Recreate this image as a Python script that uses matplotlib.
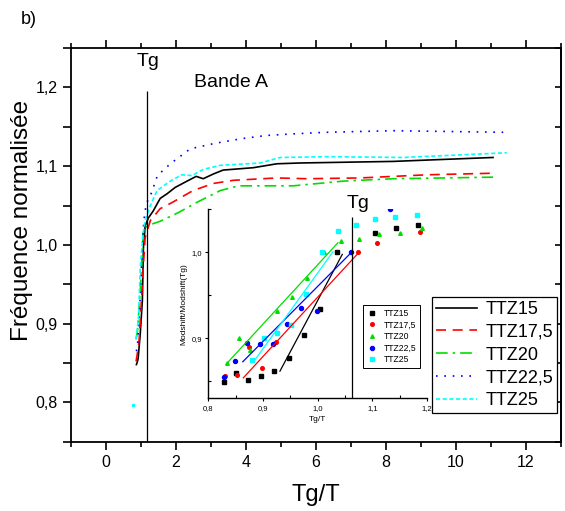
import numpy as np
import matplotlib
matplotlib.use("Agg")
import matplotlib.pyplot as plt
from matplotlib.ticker import MultipleLocator, FuncFormatter

plt.rcParams['font.family'] = ['Liberation Sans', 'DejaVu Sans']

# ---------------- main chart data ----------------
series_names = ["TTZ15", "TTZ17,5", "TTZ20", "TTZ22,5", "TTZ25"]

ttz15_x = [0.87, 0.90, 0.92, 0.98, 1.04, 1.07, 1.12, 1.21, 1.35, 1.55, 1.75, 1.98, 2.32, 2.58, 2.78, 3.07, 3.35, 4.21, 4.89, 5.55, 8.21, 11.07]
ttz15_y = [0.848, 0.852, 0.856, 0.887, 0.929, 0.996, 1.024, 1.034, 1.043, 1.059, 1.065, 1.073, 1.081, 1.087, 1.084, 1.090, 1.095, 1.098, 1.103, 1.104, 1.106, 1.111]

ttz175_x = [0.86, 0.89, 0.95, 1.02, 1.07, 1.12, 1.27, 1.55, 1.90, 2.49, 3.07, 3.64, 4.89, 5.75, 7.27, 9.18, 11.07]
ttz175_y = [0.852, 0.860, 0.880, 0.935, 0.975, 1.009, 1.031, 1.046, 1.054, 1.069, 1.078, 1.082, 1.085, 1.084, 1.085, 1.089, 1.091]

ttz20_x = [0.86, 0.90, 0.98, 1.07, 1.22, 1.55, 2.07, 2.60, 3.27, 3.79, 5.36, 6.79, 8.22, 11.07]
ttz20_y = [0.880, 0.890, 0.941, 1.020, 1.025, 1.030, 1.041, 1.054, 1.069, 1.075, 1.075, 1.081, 1.084, 1.086]

ttz225_x = [0.87, 0.90, 0.96, 1.03, 1.08, 1.15, 1.31, 1.47, 1.84, 2.41, 3.12, 3.89, 4.60, 5.36, 6.31, 8.22, 11.36]
ttz225_y = [0.865, 0.872, 0.916, 0.985, 1.030, 1.052, 1.067, 1.088, 1.103, 1.122, 1.129, 1.135, 1.139, 1.141, 1.143, 1.145, 1.143]

ttz25_x = [0.86, 0.93, 0.98, 1.05, 1.12, 1.25, 1.46, 1.84, 2.17, 2.46, 2.79, 3.27, 4.41, 4.98, 6.31, 8.50, 11.46]
ttz25_y = [0.880, 0.907, 0.971, 1.010, 1.031, 1.048, 1.069, 1.081, 1.089, 1.088, 1.096, 1.101, 1.104, 1.111, 1.112, 1.111, 1.117]
ttz25_outlier_x = [0.78]
ttz25_outlier_y = [0.797]

tg_main = 1.16
tg_main_top = 1.196

# ---------------- inset data ----------------
in15_x = [0.829, 0.850, 0.873, 0.896, 0.921, 0.947, 0.975, 1.005, 1.036, 1.105, 1.143, 1.184]
in15_y = [0.8485, 0.859, 0.8515, 0.856, 0.8616, 0.8764, 0.9035, 0.9337, 0.9997, 1.0225, 1.028, 1.032]

in175_x = [0.831, 0.853, 0.875, 0.899, 0.924, 1.073, 1.108, 1.187]
in175_y = [0.856, 0.8566, 0.890, 0.865, 0.8957, 0.9997, 1.0105, 1.0236]

in20_x = [0.834, 0.856, 0.877, 0.926, 0.953, 0.980, 1.011, 1.042, 1.076, 1.112, 1.150, 1.191]
in20_y = [0.871, 0.900, 0.8857, 0.932, 0.9477, 0.9694, 0.9997, 1.013, 1.0155, 1.021, 1.0217, 1.028]

in225_x = [0.828, 0.849, 0.871, 0.894, 0.918, 0.943, 0.970, 0.999, 1.061, 1.132]
in225_y = [0.855, 0.8736, 0.8946, 0.8934, 0.8934, 0.9166, 0.935, 0.931, 0.9997, 1.050]

in25_x = [0.879, 0.902, 0.926, 0.952, 0.978, 1.008, 1.038, 1.070, 1.105, 1.142, 1.181]
in25_y = [0.8748, 0.9003, 0.906, 0.9147, 0.9515, 0.9997, 1.025, 1.031, 1.038, 1.041, 1.0434]

# linear fit segments: [x_start, x_end], [y_start, y_end]
fit15_x = [0.931, 1.045]
fit15_y = [0.8616, 0.9973]
fit175_x = [0.864, 1.076]
fit175_y = [0.8538, 1.000]
fit20_x = [0.833, 1.037]
fit20_y = [0.870, 1.0108]
fit225_x = [0.863, 1.063]
fit225_y = [0.8725, 1.0004]
fit25_x = [0.885, 1.028]
fit25_y = [0.8744, 1.0004]

tg_inset = 1.0625
tg_inset_top = 1.041

# ---------------- figure ----------------
fig = plt.figure(figsize=(5.65, 5.11), dpi=100)
ax = fig.add_axes([0.1257, 0.1356, 0.8664, 0.7704])

lw = 1.2
ax.plot(ttz15_x, ttz15_y, color='black', lw=lw, ls='-', label=series_names[0])
ax.plot(ttz175_x, ttz175_y, color='red', lw=lw, ls=(0, (6, 4)), label=series_names[1])
ax.plot(ttz20_x, ttz20_y, color='#00dd00', lw=lw, ls=(0, (7, 3, 1.5, 3)), label=series_names[2])
ax.plot(ttz225_x, ttz225_y, color='blue', lw=lw, ls=(0, (1, 4)), label=series_names[3])
ax.plot(ttz25_x, ttz25_y, color='cyan', lw=lw, ls=(0, (2.5, 1.5)), label=series_names[4])
ax.plot(ttz25_outlier_x, ttz25_outlier_y, color='cyan', marker='s', ms=1.5, ls='none')

ax.vlines(tg_main, 0.75, tg_main_top, color='black', lw=0.9)
ax.text(tg_main + 0.04, 1.227, 'Tg', ha='center', va='baseline', fontsize=14)
ax.text(3.57, 1.2, 'Bande A', ha='center', va='baseline', fontsize=14)

ax.set_xlim(-1, 13)
ax.set_ylim(0.75, 1.25)
ax.xaxis.set_major_locator(MultipleLocator(2))
ax.xaxis.set_minor_locator(MultipleLocator(1))
ax.yaxis.set_major_locator(MultipleLocator(0.1))
ax.yaxis.set_minor_locator(MultipleLocator(0.05))
ax.yaxis.set_major_formatter(FuncFormatter(lambda v, p: f"{v:.1f}".replace('.', ',')))
ax.tick_params(axis='x', which='both', direction='out', top=True, labelsize=11.5, width=1.2)
ax.tick_params(axis='x', which='major', length=6)
ax.tick_params(axis='x', which='minor', length=3.5)
ax.tick_params(axis='y', which='both', direction='out', labelsize=11.5, width=1.2)
ax.tick_params(axis='y', which='major', length=6)
ax.tick_params(axis='y', which='minor', length=6)
for s in ax.spines.values():
    s.set_linewidth(1.3)

sec = ax.secondary_yaxis('right')
sec.yaxis.set_major_locator(MultipleLocator(0.1))
sec.yaxis.set_minor_locator(MultipleLocator(0.05))
sec.tick_params(which='both', direction='in', length=4, width=1.2, labelright=False)
sec.spines['right'].set_linewidth(1.3)

ax.set_xlabel('Tg/T', fontsize=17, labelpad=10)
ax.set_ylabel('Fréquence normalisée', fontsize=17.5)
ax.yaxis.set_label_coords(-0.078, 0.563)

leg = ax.legend(loc='upper right', bbox_to_anchor=(0.993, 0.3675), fontsize=13,
                frameon=True, fancybox=False, edgecolor='black', framealpha=1,
                handlelength=2.3, labelspacing=0.32, borderpad=0.22, handletextpad=0.45,
                borderaxespad=0)
leg.get_frame().set_linewidth(0.9)

fig.text(0.037, 0.962, 'b)', fontsize=13, va='center', ha='left')

# ---------------- inset ----------------
ax2 = fig.add_axes([0.3687, 0.2205, 0.3871, 0.3704])
ax2.patch.set_alpha(0)
ms = 2.6
ax2.plot(in15_x, in15_y, 's', color='black', ms=ms, label=series_names[0])
ax2.plot(in175_x, in175_y, 'o', color='red', ms=ms, label=series_names[1])
ax2.plot(in20_x, in20_y, '^', color='#00dd00', ms=ms, label=series_names[2])
ax2.plot(in225_x, in225_y, 'o', color='blue', ms=ms + 0.3, label=series_names[3])
ax2.plot(in25_x, in25_y, 's', color='cyan', ms=ms, label=series_names[4])

ax2.plot(fit15_x, fit15_y, color='black', lw=0.9)
ax2.plot(fit175_x, fit175_y, color='red', lw=0.9)
ax2.plot(fit20_x, fit20_y, color='#00dd00', lw=0.9)
ax2.plot(fit225_x, fit225_y, color='blue', lw=0.9)
ax2.plot(fit25_x, fit25_y, color='cyan', lw=0.9)

ax2.set_xlim(0.8, 1.2)
ax2.set_ylim(0.83, 1.05)
ax2.vlines(tg_inset, 0.83, tg_inset_top, color='black', lw=0.9)
ax2.text(tg_inset + 0.012, 1.051, 'Tg', ha='center', va='baseline', fontsize=14)

for side in ['top', 'right']:
    ax2.spines[side].set_visible(False)
for side in ['left', 'bottom']:
    ax2.spines[side].set_linewidth(1.0)
ax2.xaxis.set_major_locator(MultipleLocator(0.1))
ax2.xaxis.set_minor_locator(MultipleLocator(0.05))
ax2.yaxis.set_major_locator(MultipleLocator(0.1))
ax2.yaxis.set_minor_locator(MultipleLocator(0.05))
fmt = FuncFormatter(lambda v, p: f"{v:.1f}".replace('.', ','))
ax2.xaxis.set_major_formatter(fmt)
ax2.yaxis.set_major_formatter(fmt)
ax2.tick_params(which='major', direction='out', length=2.5, width=0.8, labelsize=5.5, pad=2)
ax2.tick_params(which='minor', direction='in', length=2, width=0.8)
ax2.set_xlabel('Tg/T', fontsize=6, labelpad=3)
ax2.set_ylabel('Modshift/Modshift(Tg)', fontsize=6, labelpad=3)

leg2 = ax2.legend(loc='upper right', bbox_to_anchor=(0.968, 0.493), fontsize=6.2,
                  frameon=True, fancybox=False, edgecolor='black', framealpha=1,
                  handlelength=1.2, labelspacing=0.3, borderpad=0.45, handletextpad=0.7,
                  borderaxespad=0, markerscale=1.0)
leg2.get_frame().set_linewidth(0.7)

fig.savefig('out.png', dpi=100)
